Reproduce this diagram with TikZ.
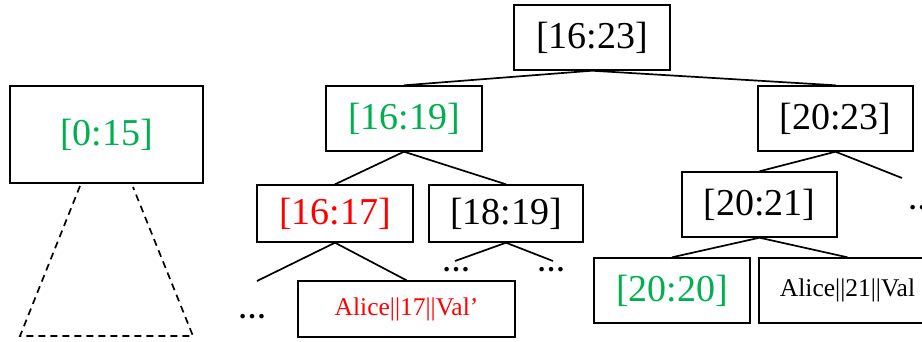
\documentclass[tikz,border=0pt]{standalone}
\usepackage{fontspec}
\setmainfont{Liberation Serif}
\usepackage{xcolor}
\definecolor{rangegreen}{RGB}{0,176,80}
\definecolor{rangered}{RGB}{255,0,0}

\begin{document}
\begin{tikzpicture}[x=1pt,y=1pt,yscale=-1,xscale=1,
  rangebox/.style={draw,line width=1.4pt,inner sep=0pt,minimum height=65pt,font=\fontsize{38}{40}\selectfont},
  leafbox/.style={draw,line width=1.4pt,inner sep=0pt,minimum height=56pt,font=\fontsize{25.5}{28}\selectfont},
  branch/.style={line width=1.7pt},
  moredots/.style={anchor=base,inner sep=0pt,font=\fontsize{28}{30}\selectfont\bfseries}]
\useasboundingbox (0,0) rectangle (922,341); %picture is 922 wide, 341 high

%Left subtree [0:15]
\node [rangebox,minimum width=193pt,minimum height=97pt,text=rangegreen] (r0) at (106.5,134.5) {[0:15]};
\coordinate (t1) at (80,186);
\coordinate (t2) at (20,336);
\coordinate (t3) at (193,336);
\coordinate (t4) at (133,187);
\draw [line width=1.7pt,dash pattern=on 7pt off 5pt] (t1) -- (t2) -- (t3) -- (t4);

%Root and second level
\node [rangebox,minimum width=156pt] (r1623) at (592,37.5) {[16:23]};
\node [rangebox,minimum width=156pt,text=rangegreen] (r1619) at (404,118.5) {[16:19]};
\node [rangebox,minimum width=155pt] (r2023) at (835.5,118.5) {[20:23]};

%Third level
\node [rangebox,minimum width=156pt,minimum height=57pt,text=rangered] (r1617) at (335,213.5) {[16:17]};
\node [rangebox,minimum width=154pt,minimum height=57pt] (r1819) at (506,213.5) {[18:19]};
\node [rangebox,minimum width=155pt] (r2021) at (759.5,204.5) {[20:21]};

%Leaves
\node [leafbox,minimum width=217pt,text=rangered] (a17) at (406.5,309) {Alice||17||Val’};
\node [rangebox,minimum width=156pt,text=rangegreen] (r2020) at (672,290.5) {[20:20]};
\node [leafbox,minimum width=177pt,minimum height=65pt] (a21) at (847.5,290.5) {Alice||21||Val};

%Dots for the hidden branches
\node [moredots] (d1) at (252,318) {…};
\node [moredots] (d2) at (456,271.5) {…};
\node [moredots] (d3) at (551,271.5) {…};
\node [moredots] (d4) at (922,209) {…};
\coordinate (e1) at (257,281);
\coordinate (e2) at (455,261);
\coordinate (e3) at (553,261);
\coordinate (e4) at (902,178);

%Edges
\draw [branch] (r1623.south) -- (r1619.north);
\draw [branch] (r1623.south) -- (r2023.north);
\draw [branch] (r1619.south) -- (r1617.north);
\draw [branch] (r1619.south) -- (r1819.north);
\draw [branch] (r2023.south) -- (r2021.north);
\draw [branch] (r2023.south) -- (e4);
\draw [branch] (r1617.south) -- (e1);
\draw [branch] (r1617.south) -- (a17.north);
\draw [branch] (r1819.south) -- (e2);
\draw [branch] (r1819.south) -- (e3);
\draw [branch] (r2021.south) -- (r2020.north);
\draw [branch] (r2021.south) -- (a21.north);

\end{tikzpicture}
\end{document}
